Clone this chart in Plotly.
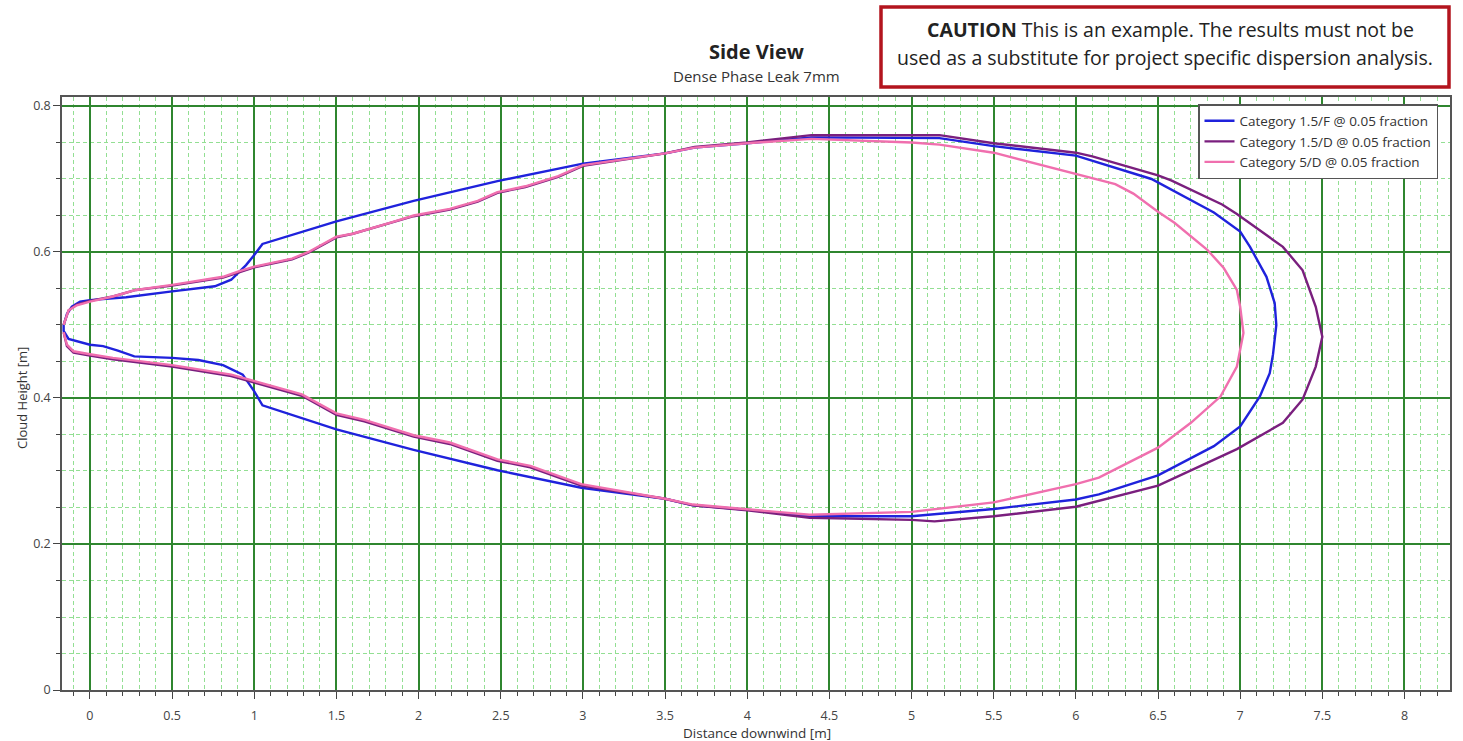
import plotly.graph_objects as go

# Cloud outline (side view) for each stability category, traced from the
# nose along the upper edge to the far end, then back along the lower edge.
blue_x = [-0.16, -0.14, -0.11, -0.06, 0.0, 0.22, 0.5, 0.76, 0.86, 0.95, 1.0, 1.05,
          1.5, 1.97, 2.48, 3.0, 3.5, 3.68, 4.0, 4.39, 5.17, 5.5, 6.0, 6.46, 6.84,
          7.0, 7.06, 7.16, 7.21, 7.22, 7.2, 7.18, 7.12, 7.0, 6.84, 6.5, 6.14, 6.0,
          5.5, 5.0, 4.38, 4.0, 3.67, 3.5, 2.99, 2.48, 1.97, 1.5, 1.05, 1.0, 0.93,
          0.81, 0.66, 0.5, 0.27, 0.17, 0.08, 0.0, -0.13, -0.16, -0.16]
blue_y = [0.500, 0.515, 0.525, 0.532, 0.534, 0.538, 0.546, 0.553, 0.562, 0.582, 0.596, 0.611,
          0.642, 0.670, 0.697, 0.721, 0.735, 0.743, 0.749, 0.757, 0.756, 0.745, 0.732, 0.700, 0.654,
          0.628, 0.607, 0.566, 0.530, 0.500, 0.460, 0.434, 0.402, 0.361, 0.334, 0.294, 0.268, 0.261,
          0.248, 0.238, 0.238, 0.247, 0.253, 0.262, 0.277, 0.301, 0.329, 0.357, 0.390, 0.409, 0.432,
          0.445, 0.452, 0.455, 0.457, 0.465, 0.471, 0.473, 0.481, 0.492, 0.500]

purple_x = [-0.16, -0.13, -0.08, 0.0, 0.14, 0.28, 0.5, 0.81, 1.0, 1.23, 1.33, 1.5, 1.6,
            1.84, 1.97, 2.19, 2.36, 2.48, 2.65, 2.85, 3.0, 3.5, 3.68, 4.0, 4.39, 5.17,
            5.5, 6.0, 6.1, 6.5, 6.58, 6.89, 6.98, 7.26, 7.38, 7.46, 7.5, 7.46, 7.38,
            7.26, 6.98, 6.5, 6.14, 6.0, 5.5, 5.14, 5.0, 4.38, 4.0, 3.67, 3.5, 2.99,
            2.68, 2.48, 2.19, 1.97, 1.67, 1.5, 1.29, 1.0, 0.86, 0.5, 0.14, 0.0, -0.1,
            -0.14, -0.16]
purple_y = [0.500, 0.520, 0.528, 0.533, 0.539, 0.548, 0.554, 0.565, 0.579, 0.590, 0.599, 0.620, 0.625,
            0.640, 0.649, 0.658, 0.669, 0.681, 0.689, 0.703, 0.718, 0.735, 0.744, 0.750, 0.760, 0.760,
            0.749, 0.736, 0.731, 0.705, 0.698, 0.665, 0.652, 0.607, 0.575, 0.525, 0.484, 0.443, 0.398,
            0.366, 0.330, 0.280, 0.259, 0.251, 0.238, 0.231, 0.233, 0.236, 0.246, 0.253, 0.262, 0.280,
            0.305, 0.314, 0.337, 0.347, 0.368, 0.377, 0.403, 0.421, 0.430, 0.443, 0.453, 0.458, 0.462,
            0.471, 0.490]

pink_x = [-0.16, -0.13, -0.08, 0.0, 0.14, 0.28, 0.5, 0.81, 0.9, 1.0, 1.23, 1.33, 1.5, 1.6,
          1.84, 1.97, 2.19, 2.36, 2.48, 2.65, 2.85, 3.0, 3.5, 3.68, 4.0, 4.39, 5.0, 5.17,
          5.5, 6.0, 6.24, 6.35, 6.5, 6.6, 6.8, 6.9, 6.98, 7.0, 7.02, 6.98, 6.88, 6.7,
          6.5, 6.14, 6.0, 5.5, 5.0, 4.38, 4.0, 3.67, 3.5, 2.99, 2.68, 2.48, 2.19, 1.97,
          1.67, 1.5, 1.29, 1.0, 0.86, 0.5, 0.14, 0.0, -0.1, -0.14, -0.16]
pink_y = [0.500, 0.520, 0.527, 0.532, 0.539, 0.548, 0.555, 0.566, 0.573, 0.580, 0.591, 0.600, 0.621, 0.625,
          0.641, 0.650, 0.659, 0.670, 0.682, 0.690, 0.704, 0.719, 0.735, 0.743, 0.749, 0.755, 0.750, 0.747,
          0.736, 0.707, 0.693, 0.680, 0.655, 0.640, 0.603, 0.578, 0.548, 0.525, 0.489, 0.443, 0.402, 0.366,
          0.332, 0.291, 0.282, 0.257, 0.244, 0.240, 0.248, 0.254, 0.262, 0.282, 0.307, 0.316, 0.339, 0.349,
          0.370, 0.379, 0.405, 0.423, 0.432, 0.445, 0.455, 0.460, 0.464, 0.473, 0.490]

series_names = ["Category 1.5/F @ 0.05 fraction",
                "Category 1.5/D @ 0.05 fraction",
                "Category 5/D @ 0.05 fraction"]
series_colors = ["#1f22dc", "#7a1f7e", "#f06fae"]

FONT = "Open Sans, Noto Sans, DejaVu Sans, sans-serif"

fig = go.Figure()
for xs, ys, name, col in zip([blue_x, purple_x, pink_x], [blue_y, purple_y, pink_y],
                             series_names, series_colors):
    fig.add_trace(go.Scatter(x=xs, y=ys, mode="lines", name=name,
                             line=dict(color=col, width=2.4)))

# Pixel geometry of the plotting area
W, H = 1463, 741
L, R, T, B = 62, 1450, 97, 690
PW, PH = R - L, B - T


def px(xp):
    return (xp - L) / PW


def py(yp):
    return (B - yp) / PH


axis_common = dict(
    showline=True, linecolor="#555555", linewidth=1.5, mirror=True,
    ticks="outside", tickcolor="#444444", ticklen=7, tickwidth=1.3,
    showgrid=True, gridcolor="#2f862f", gridwidth=1.5, zeroline=False,
    tickfont=dict(family=FONT, size=12.5, color="#444444"),
)
minor_common = dict(ticks="outside", ticklen=4, tickcolor="#444444",
                    showgrid=True, gridcolor="#93df93",
                    griddash="4px,3px", gridwidth=1)

fig.update_xaxes(
    range=[-0.17, 8.277], tickmode="linear", tick0=0, dtick=0.5,
    ticklabelstandoff=6,
    minor=dict(tickmode="linear", tick0=0, dtick=0.1, **minor_common),
    **axis_common,
)
fig.update_yaxes(
    range=[0, 0.8123], tickmode="linear", tick0=0, dtick=0.2,
    minor=dict(tickmode="linear", tick0=0, dtick=0.05, **minor_common),
    **axis_common,
)

annotations = [
    dict(text="<b>Side View</b>", x=px(757), y=py(51), font=dict(size=20, color="#222222")),
    dict(text="Dense Phase Leak 7mm", x=px(757), y=py(76), font=dict(size=15, color="#333333")),
    dict(text="<b>CAUTION</b> This is an example. The results must not be",
         x=px(1170), y=py(30), font=dict(size=19.5, color="#222222")),
    dict(text="used as a substitute for project specific dispersion analysis.",
         x=px(1165), y=py(57), font=dict(size=19.5, color="#222222")),
    dict(text="Cloud Height [m]", x=px(22), y=py(398), textangle=-90,
         font=dict(size=13, color="#333333")),
    dict(text="Distance downwind [m]", x=px(757), y=py(733),
         font=dict(size=13.5, color="#333333")),
]
for a in annotations:
    a.update(xref="paper", yref="paper", showarrow=False,
             xanchor="center", yanchor="middle")
    a["font"]["family"] = FONT

fig.update_layout(
    width=W, height=H,
    margin=dict(l=L, r=W - R, t=T, b=H - B),
    paper_bgcolor="white", plot_bgcolor="white",
    font=dict(family=FONT, size=12, color="#333333"),
    annotations=annotations,
    shapes=[dict(type="rect", xref="paper", yref="paper",
                 x0=px(881), x1=px(1449), y0=py(87), y1=py(7),
                 line=dict(color="#b3141e", width=3.5), fillcolor="rgba(0,0,0,0)")],
    legend=dict(x=px(1198), y=py(104), xanchor="left", yanchor="top",
                bgcolor="white", bordercolor="#555555", borderwidth=1.5,
                font=dict(family=FONT, size=13.5, color="#333333"),
                tracegroupgap=0, itemwidth=30),
    showlegend=True,
)

fig.write_html("out.html")
